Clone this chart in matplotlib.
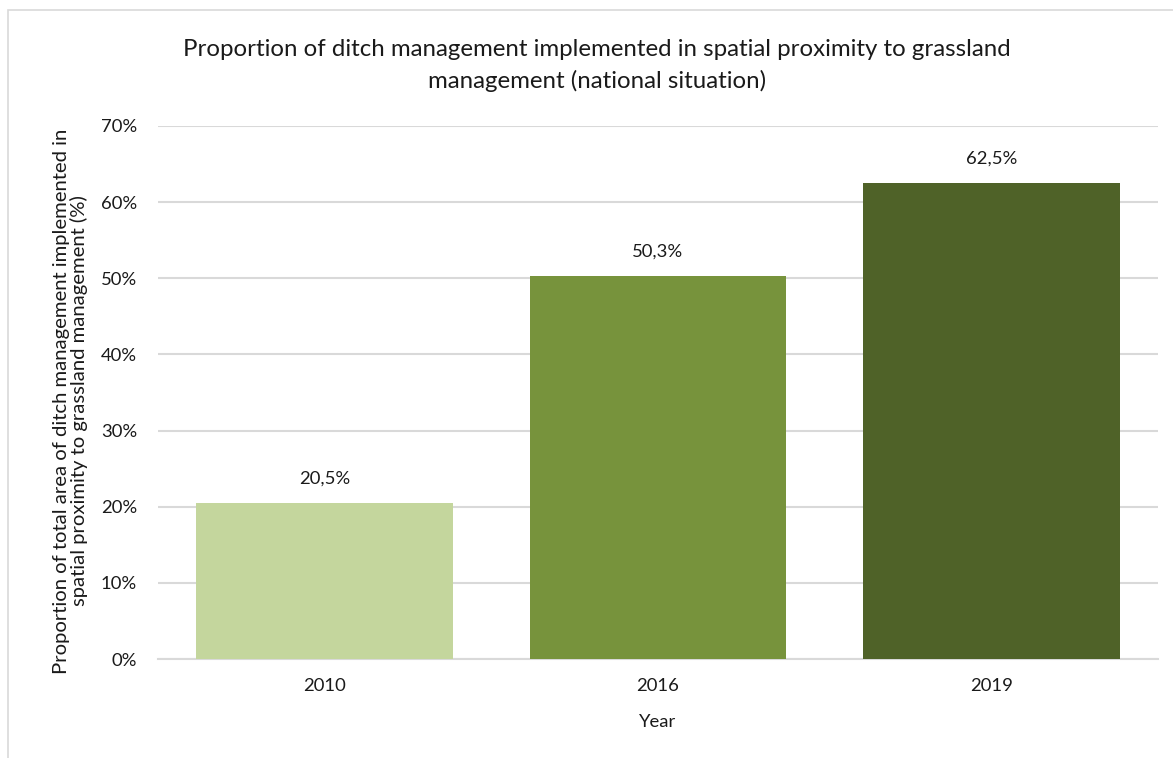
import matplotlib
matplotlib.use("Agg")
import matplotlib.pyplot as plt
from matplotlib.patches import Rectangle
from matplotlib.ticker import FuncFormatter, MultipleLocator

years = ["2010", "2016", "2019"]
shares = [20.5, 50.3, 62.5]
bar_colors = ["#C4D69D", "#77933C", "#4F6228"]

plt.rcParams["font.family"] = ["Lato", "DejaVu Sans"]

fig = plt.figure(figsize=(11.73, 7.58), dpi=100)
ax = fig.add_axes([0.1347, 0.1306, 0.8525, 0.7032])

# Chart area frame
fig.patches.append(Rectangle((8 / 1173, -0.05), 1.2, 0.05 + 1 - 10 / 758,
                             transform=fig.transFigure, fill=False,
                             edgecolor="#D9D9D9", linewidth=1.2, zorder=0))

x = range(len(years))
ax.bar(x, shares, width=0.77, color=bar_colors, zorder=3)
for xi, v in zip(x, shares):
    ax.text(xi, v + 2.2, f"{v:.1f}%".replace(".", ","), ha="center", va="bottom",
            fontsize=13.3, color="#1A1A1A")

ax.set_xlim(-0.5, 2.5)
ax.set_ylim(0, 70)
ax.yaxis.set_major_locator(MultipleLocator(10))
ax.yaxis.set_major_formatter(FuncFormatter(lambda v, _: f"{v:.0f}%"))
ax.set_xticks(list(x))
ax.set_xticklabels(years)
ax.tick_params(axis="both", length=0, labelsize=13.3, colors="#1A1A1A")
ax.tick_params(axis="x", pad=14)
ax.tick_params(axis="y", pad=15)
ax.grid(axis="y", color="#D9D9D9", linewidth=1.5, zorder=0)
for side in ("top", "right", "left"):
    ax.spines[side].set_visible(False)
ax.spines["bottom"].set_color("#D9D9D9")
ax.spines["bottom"].set_linewidth(1.5)

ax.set_xlabel("Year", fontsize=13.3, color="#1A1A1A", labelpad=14)
ax.set_ylabel("Proportion of total area of ditch management implemented in\n"
              "spatial proximity to grassland management (%)",
              fontsize=14.6, color="#1A1A1A", linespacing=1.0,
              multialignment="center")
ax.yaxis.set_label_coords(-0.070, 0.484)

fig.text(0.509, 0.9135,
         "Proportion of ditch management implemented in spatial proximity to grassland\n"
         "management (national situation)",
         ha="center", va="center", fontsize=17.3, color="#1A1A1A", linespacing=1.55,
         multialignment="center")

fig.savefig("out.png", dpi=100, facecolor="white")
